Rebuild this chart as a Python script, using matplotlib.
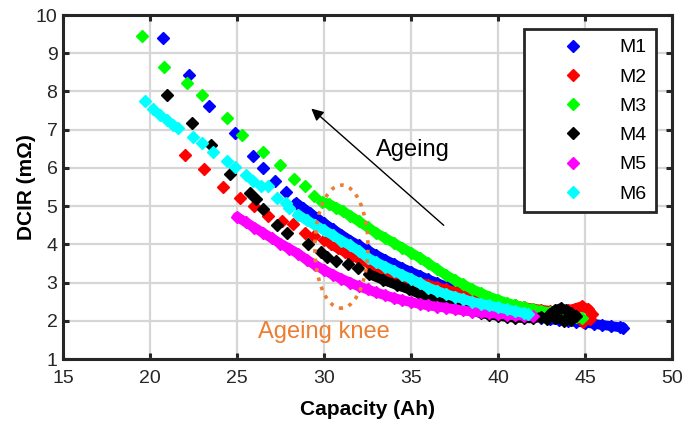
import numpy as np
import matplotlib.pyplot as plt
from matplotlib.patches import Ellipse

plt.rcParams['font.family'] = ['Liberation Sans', 'DejaVu Sans']

# ── Data ───────────────────────────────────────────────────
# each series: sparse early-life points, then the dense cycling band
m1_cap  = [20.75, 22.25, 23.4, 24.9, 25.9, 26.5, 27.2, 27.8,
           28.4, 28.8, 29.2, 29.6, 30.0, 30.5, 31.0, 31.5, 32.0, 32.5, 33.0, 33.5,
           34.0, 34.5, 35.0, 35.5, 36.0, 36.5, 37.0, 37.5, 38.0, 38.5, 39.0, 39.5,
           40.0, 40.5, 41.0, 41.5, 42.0, 42.5, 43.0, 43.5, 44.0, 44.5, 45.0, 45.5,
           46.0, 46.5, 47.0, 47.2]
m1_dcir = [9.40, 8.42, 7.63, 6.92, 6.30, 6.00, 5.65, 5.36,
           5.08, 4.95, 4.82, 4.68, 4.55, 4.40, 4.25, 4.10, 3.97, 3.84, 3.72, 3.60,
           3.49, 3.38, 3.28, 3.18, 3.08, 2.99, 2.90, 2.81, 2.73, 2.64, 2.56, 2.48,
           2.41, 2.34, 2.28, 2.22, 2.16, 2.08, 2.04, 2.01, 1.99, 1.97, 1.95, 1.92,
           1.89, 1.86, 1.83, 1.82]

m2_cap  = [22.0, 23.1, 24.2, 25.2, 26.0, 26.8, 27.6, 28.2, 28.9, 29.4, 30.0,
           30.4, 30.8, 31.2, 31.6, 32.0, 32.5, 33.0, 33.5, 34.0, 34.5, 35.0, 35.5,
           36.0, 36.5, 37.0, 37.5, 38.0, 38.5, 39.0, 39.5, 40.0, 40.5, 41.0, 41.5,
           42.0, 42.5, 43.0, 43.5, 44.0, 44.4, 44.8, 45.2, 45.4, 45.3, 44.9, 44.6]
m2_dcir = [6.35, 5.96, 5.50, 5.22, 5.00, 4.73, 4.62, 4.52, 4.30, 4.22, 4.12,
           4.00, 3.90, 3.80, 3.70, 3.62, 3.52, 3.42, 3.32, 3.23, 3.15, 3.07, 3.00,
           2.94, 2.88, 2.82, 2.76, 2.70, 2.64, 2.59, 2.54, 2.49, 2.44, 2.40, 2.36,
           2.32, 2.29, 2.26, 2.24, 2.28, 2.32, 2.38, 2.30, 2.18, 2.05, 1.98, 2.10]

m3_cap  = [19.55, 20.8, 22.1, 23.0, 24.4, 25.3, 26.5, 27.5, 28.3, 28.9, 29.4,
           29.9, 30.3, 30.7, 31.1, 31.5, 32.0, 32.5, 33.0, 33.5, 34.0, 34.5, 35.0,
           35.5, 36.0, 36.5, 37.0, 37.5, 38.0, 38.5, 39.0, 39.5, 40.0, 40.5, 41.0,
           41.5, 42.0, 42.5, 43.0, 43.5, 44.0, 44.5, 44.8]
m3_dcir = [9.45, 8.63, 8.23, 7.90, 7.30, 6.86, 6.42, 6.08, 5.72, 5.52, 5.26,
           5.12, 5.05, 4.96, 4.86, 4.75, 4.60, 4.45, 4.30, 4.17, 4.04, 3.91, 3.78,
           3.65, 3.50, 3.35, 3.20, 3.07, 2.95, 2.83, 2.73, 2.63, 2.55, 2.47, 2.41,
           2.35, 2.30, 2.26, 2.22, 2.17, 2.12, 2.09, 2.07]

m4_cap  = [21.0, 22.4, 23.5, 24.6, 25.75, 26.1, 26.5, 27.3, 27.9, 29.1, 29.8,
           30.2, 30.7, 31.4, 31.95,
           32.6, 33.4, 34.2, 34.9, 35.5, 36.0, 36.5, 37.0, 37.5, 38.0, 38.5, 39.0,
           39.5, 40.0, 40.5, 41.0, 41.5, 42.0, 42.5, 42.8, 43.0, 43.3, 43.6, 43.9,
           44.2, 44.5, 44.2, 43.8, 43.3]
m4_dcir = [7.90, 7.18, 6.60, 5.85, 5.35, 5.18, 4.92, 4.50, 4.30, 4.00, 3.80,
           3.68, 3.56, 3.48, 3.37,
           3.22, 3.07, 2.93, 2.82, 2.70, 2.60, 2.52, 2.45, 2.38, 2.32, 2.26, 2.20,
           2.16, 2.13, 2.10, 2.08, 2.07, 2.06, 2.10, 2.05, 2.18, 2.28, 2.33, 2.28,
           2.20, 2.12, 2.02, 2.00, 2.08]

m5_cap  = [25.0, 25.5, 26.0, 26.5, 27.0, 27.5, 28.0, 28.5, 29.0, 29.5, 30.0,
           30.5, 31.0, 31.5, 32.0, 32.5, 33.0, 33.5, 34.0, 34.5, 35.0, 35.5, 36.0,
           36.5, 37.0, 37.5, 38.0, 38.5, 39.0, 39.5, 40.0, 40.5, 41.0, 41.5, 42.0]
m5_dcir = [4.72, 4.58, 4.44, 4.30, 4.16, 4.02, 3.89, 3.76, 3.60, 3.46, 3.33,
           3.21, 3.10, 3.00, 2.90, 2.82, 2.74, 2.67, 2.60, 2.54, 2.49, 2.44, 2.40,
           2.37, 2.34, 2.30, 2.27, 2.24, 2.22, 2.20, 2.18, 2.16, 2.14, 2.13, 2.12]

m6_cap  = [19.7, 20.2, 20.6, 21.0, 21.3, 21.6, 22.5, 23.0, 23.6, 24.4, 24.9,
           25.5, 25.9, 26.4, 26.8, 27.3, 27.8, 28.0,
           28.5, 29.0, 29.5, 30.0, 30.5, 31.0, 31.5, 32.0, 32.5, 33.0, 33.5, 34.0,
           34.5, 35.0, 35.5, 36.0, 36.5, 37.0, 37.5, 38.0, 38.5, 39.0, 39.5, 40.0,
           40.5, 41.0, 41.5, 41.7]
m6_dcir = [7.75, 7.55, 7.38, 7.25, 7.13, 7.05, 6.82, 6.65, 6.42, 6.18, 6.02,
           5.82, 5.65, 5.52, 5.52, 5.20, 5.07, 4.95,
           4.78, 4.63, 4.50, 4.37, 4.24, 4.10, 3.97, 3.83, 3.65, 3.53, 3.42, 3.31,
           3.20, 3.10, 2.98, 2.87, 2.78, 2.70, 2.63, 2.57, 2.50, 2.45, 2.40, 2.35,
           2.30, 2.25, 2.20, 2.18]

labels   = ['M1', 'M2', 'M3', 'M4', 'M5', 'M6']
caps     = [m1_cap, m2_cap, m3_cap, m4_cap, m5_cap, m6_cap]
dcirs    = [m1_dcir, m2_dcir, m3_dcir, m4_dcir, m5_dcir, m6_dcir]
n_sparse = [8, 11, 11, 15, 0, 18]   # points before the dense band starts
colors   = ['#0000ff', '#ff0000', '#00ff00', '#000000', '#ff00ff', '#00ffff']

# ── Figure ─────────────────────────────────────────────────
fig = plt.figure(figsize=(6.83, 4.21), dpi=100)
ax = fig.add_axes([63/683, 62/421, 609/683, 344/421])

for k, (lab, x, y, ns, c) in enumerate(zip(labels, caps, dcirs, n_sparse, colors)):
    x = np.array(x)
    y = np.array(y)
    z = 3 + k
    # dense band drawn as a thick line under the markers
    ax.plot(x[ns:], y[ns:], color=c, lw=7, solid_capstyle='round',
            solid_joinstyle='round', zorder=z)
    ax.plot(x, y, ls='none', marker='D', ms=6, color=c, mec=c, zorder=z, label=lab)

ax.set_xlim(15, 50)
ax.set_ylim(1, 10)
ax.set_xticks(np.arange(15, 51, 5))
ax.set_yticks(np.arange(1, 11, 1))

ax.grid(True, color='#d6d6d6', lw=1.6, zorder=0)
ax.set_axisbelow(True)
for spine in ax.spines.values():
    spine.set_linewidth(2.2)
    spine.set_color('#262626')
    spine.set_zorder(20)
ax.tick_params(direction='in', length=4, width=2.2, colors='#262626',
               labelsize=14, top=True, right=True)
ax.tick_params(axis='x', pad=8)
ax.tick_params(axis='y', pad=4)

ax.set_xlabel('Capacity (Ah)', fontsize=15, fontweight='bold', labelpad=9.5)
ax.set_ylabel('DCIR (mΩ)', fontsize=15, fontweight='bold', labelpad=0)

# ageing arrow and knee marker
ax.annotate('', xy=(29.15, 7.6), xytext=(37.0, 4.45),
            arrowprops=dict(arrowstyle='-|>', color='black', lw=1, mutation_scale=18),
            zorder=15)
ax.text(35.1, 6.47, 'Ageing', fontsize=17, ha='center', va='center', zorder=15)

ax.add_patch(Ellipse((31.0, 3.94), width=3.05, height=3.22, angle=-4,
                     fill=False, ls=':', lw=2.6, color='#ED7D31', zorder=15))
ax.text(26.2, 1.7, 'Ageing knee', fontsize=17, color='#ED7D31',
        ha='left', va='center', zorder=15)

leg = ax.legend(loc='upper right', bbox_to_anchor=(0.9737, 0.9593), borderaxespad=0,
                fontsize=14, handlelength=4.05, handletextpad=0.35, labelspacing=0.6,
                borderpad=0.5, fancybox=False, framealpha=1, edgecolor='#262626')
leg.get_frame().set_linewidth(2)
leg.set_zorder(25)

fig.savefig('out.png', dpi=100)
